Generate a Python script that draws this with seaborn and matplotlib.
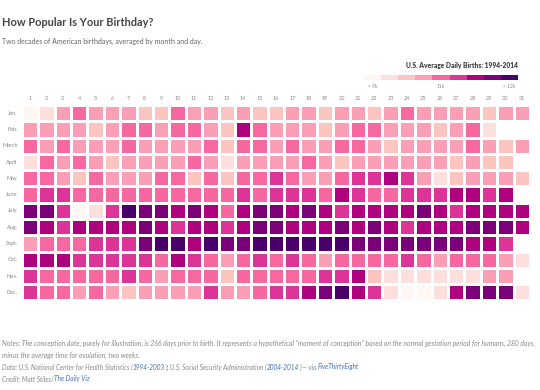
import numpy as np
import pandas as pd
import matplotlib
matplotlib.use("Agg")
import matplotlib.pyplot as plt
import seaborn as sns
from matplotlib.colors import ListedColormap, BoundaryNorm

# Monatsnamen / Tage
months = ["Jan.", "Feb.", "March", "April", "May", "June",
          "July", "Aug.", "Sept.", "Oct.", "Nov.", "Dec."]
days = list(range(1, 32))

# color class of each day (0 = < 9k ... 8 = > 12k)
jan = [0,1,3,4,3,3,3,2,2,4,3,3,2,3,2,2,3,3,2,3,3,2,3,4,3,3,3,3,2,3,3]
feb = [3,3,3,3,2,3,4,4,3,4,4,3,2,6,4,3,3,3,2,3,4,4,3,3,3,2,3,4,1]
mar = [4,3,4,3,3,3,4,3,3,3,3,4,2,4,4,3,4,3,3,4,4,3,2,3,3,3,3,4,3,2,3]
apr = [1,4,3,4,3,2,3,3,3,3,4,3,1,3,3,3,3,4,3,2,3,3,3,3,3,3,2,3,2,2]
may = [4,4,3,2,4,3,3,3,4,4,2,4,2,4,4,5,4,3,3,4,5,5,6,5,3,1,2,3,3,3,2]
jun = [4,5,5,4,4,4,4,4,4,4,4,4,4,5,4,5,5,5,4,6,5,4,4,5,5,5,6,6,5,6]
jul = [7,7,5,0,1,5,8,7,7,6,7,6,4,6,7,7,6,7,6,5,6,6,6,6,7,6,5,6,6,6,6]
aug = [7,6,5,6,6,6,6,7,6,5,6,6,5,6,7,7,6,6,6,7,6,7,6,5,6,6,6,7,7,7,6]
sep = [3,4,4,4,5,5,5,7,8,8,6,8,7,7,8,8,8,8,8,8,7,7,7,7,7,7,7,6,6,5]
octo = [6,6,6,5,5,5,5,5,4,6,5,4,3,4,5,4,5,4,3,4,4,4,4,5,4,3,4,4,4,3,1]
nov = [5,4,4,4,4,4,5,4,3,4,4,4,2,4,4,4,4,4,5,5,6,2,1,1,1,1,1,1,3,3]
dec = [5,4,4,3,4,3,2,3,3,3,3,5,3,3,4,5,5,6,7,8,6,5,1,0,0,1,6,7,7,7,1]

# typical births for each class and the class edges
class_births = [8600, 9250, 9750, 10250, 10750, 11125, 11375, 11750, 12250]
bounds = [0, 9000, 9500, 10000, 10500, 11000, 11250, 11500, 12000, 20000]
colors = ["#fff7f3", "#fde0dd", "#fcc5c0", "#fa9fb5", "#f768a1",
          "#dd3497", "#ae017e", "#7a0177", "#49006a"]

rows = [jan, feb, mar, apr, may, jun, jul, aug, sep, octo, nov, dec]
grid = np.full((12, 31), np.nan)
for i, r in enumerate(rows):
    for j, lvl in enumerate(r):
        grid[i, j] = class_births[lvl]
df = pd.DataFrame(grid, index=months, columns=days)

cmap = ListedColormap(colors)
norm = BoundaryNorm(bounds, cmap.N)

sns.set_style("white")
plt.rcParams['font.family'] = ['Lato', 'DejaVu Sans']

fig = plt.figure(figsize=(5.4, 3.9), dpi=100)
ax = fig.add_axes([0.0404, 0.2295, 0.9410, 0.5013])
sns.heatmap(df, cmap=cmap, norm=norm, linewidths=1, linecolor="white",
            cbar=False, ax=ax)
ax.xaxis.tick_top()
ax.tick_params(axis="both", length=0, labelsize=4, labelcolor="#888888", pad=3)
ax.set_xticklabels(days, rotation=0)
ax.set_yticklabels(months, rotation=0)
ax.set_xlabel("")
ax.set_ylabel("")

# titel
fig.text(0.004, 0.942, "How Popular Is Your Birthday?", fontsize=7.9,
         fontweight="bold", color="#444444", va="center")
fig.text(0.004, 0.893, "Two decades of American birthdays, averaged by month and day.",
         fontsize=5, color="#666666", va="center")

# legende
fig.text(0.959, 0.831, "U.S. Average Daily Births: 1994-2014", fontsize=4.8,
         fontweight="heavy", color="#444444", ha="right", va="center")
lax = fig.add_axes([0.674, 0.795, 0.285, 0.013])
lax.imshow(np.arange(9).reshape(1, 9), cmap=cmap, aspect="auto",
           extent=(0, 9, 0, 1))
lax.set_axis_off()
for pos, lab in [(0.5, "< 9k"), (4.5, "11k"), (8.5, "> 12k")]:
    lax.text(pos, -1.2, lab, fontsize=3.5, color="#888888",
             ha="center", va="center", transform=lax.transData)

# fussnoten mit farbigen links
fig.canvas.draw()
renderer = fig.canvas.get_renderer()


def segments(x, y, parts, size=4.7):
    for txt, col in parts:
        t = fig.text(x, y, txt, fontsize=size, style="italic", color=col,
                     va="center")
        bb = t.get_window_extent(renderer)
        x += bb.width / fig.bbox.width


gray = "#888888"
blue = "#3f6fb5"
segments(0.004, 1 - 343 / 390, [(
    "Notes: The conception date, purely for illustration, is 266 days prior to birth. "
    "It represents a hypothetical \u201cmoment of conception\u201d based on the normal "
    "gestation period for humans, 280 days,", gray)], size=4.85)
segments(0.004, 1 - 355 / 390, [("minus the average time for ovulation, two weeks.", gray)], size=4.85)
segments(0.004, 1 - 367 / 390, [
    ("Data: U.S. National Center for Health Statistics (", gray),
    ("1994-2003", blue),
    ("); U.S. Social Security Administration (", gray),
    ("2004-2014", blue),
    (") \u2014 via ", gray),
    ("FiveThirtyEight", blue)])
segments(0.004, 1 - 379 / 390, [("Credit: Matt Stiles/", gray), ("The Daily Viz", blue)])

fig.savefig("out.png", dpi=100)
